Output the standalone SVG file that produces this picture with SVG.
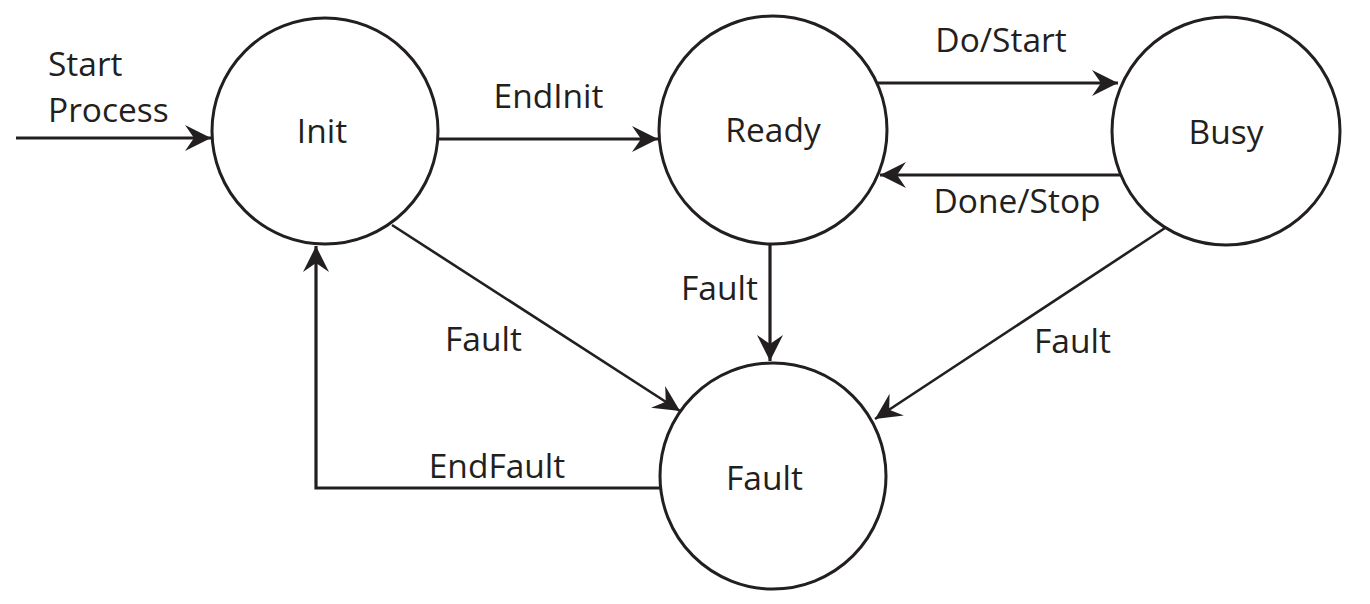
<svg xmlns="http://www.w3.org/2000/svg" width="1370" height="604" viewBox="0 0 1370 604">
<style>
.node{fill:#fff;stroke:#231f20;stroke-width:3}
.lbl{font-family:"Open Sans","Noto Sans",sans-serif;font-size:33.5px;fill:#231f20;text-anchor:middle}
.edge{fill:none;stroke:#231f20;stroke-width:3.2;marker-end:url(#ah)}
.thin{stroke-width:2.6}
</style>
<defs>
<marker id="ah" markerUnits="userSpaceOnUse" markerWidth="30" markerHeight="30" viewBox="-27 -15 30 30" refX="0" refY="0" orient="auto">
<path d="M0,0 L-26,-13 L-17,0 L-26,13 Z" fill="#231f20"/>
</marker>
</defs>
<rect width="1370" height="604" fill="#fff"/>
<g id="connectors">
<path class="edge" d="M16,138 H211"/>
<path class="edge" d="M439,139 H658"/>
<path class="edge" d="M876,83 H1118"/>
<path class="edge" d="M1124,175 H880"/>
<path class="edge" d="M770,244 V361"/>
<path class="edge thin" d="M392,225 L680,411"/>
<path class="edge thin" d="M1165,228 L875,419"/>
<path class="edge" d="M660,488 H316 V246" style="stroke-linejoin:miter"/>
<text class="lbl" x="48" y="76" style="text-anchor:start">Start</text>
<text class="lbl" x="48" y="122" style="text-anchor:start">Process</text>
<text class="lbl" x="548.5" y="108">EndInit</text>
<text class="lbl" x="1001" y="52">Do/Start</text>
<text class="lbl" x="1017" y="213">Done/Stop</text>
<text class="lbl" x="719.5" y="300">Fault</text>
<text class="lbl" x="483.5" y="351">Fault</text>
<text class="lbl" x="1072.5" y="353">Fault</text>
<text class="lbl" x="497" y="478">EndFault</text>
</g>
<g id="init"><circle class="node" cx="325" cy="131" r="113"/><text class="lbl" x="322" y="143">Init</text></g>
<g id="ready"><circle class="node" cx="773" cy="130" r="114"/><text class="lbl" x="773" y="142">Ready</text></g>
<g id="busy"><circle class="node" cx="1226" cy="131" r="114"/><text class="lbl" x="1226" y="144">Busy</text></g>
<g id="fault"><circle class="node" cx="773" cy="476" r="113"/><text class="lbl" x="764.5" y="490">Fault</text></g>
</svg>
